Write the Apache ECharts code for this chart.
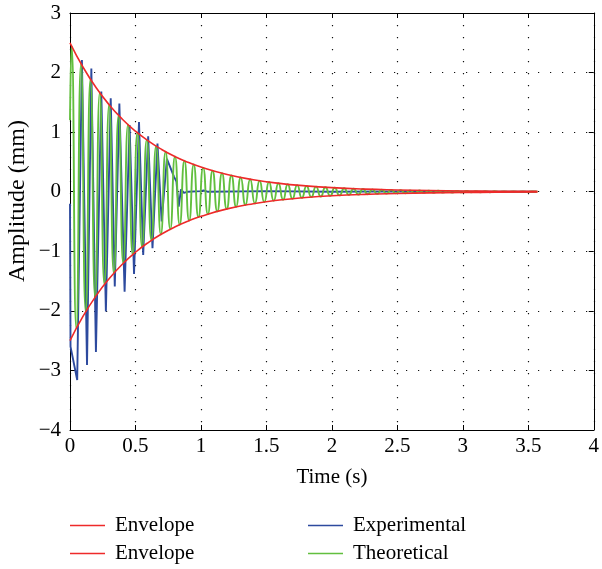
<!DOCTYPE html>
<html>
<head>
<meta charset="utf-8">
<script src="https://cdn.jsdelivr.net/npm/echarts@6/dist/echarts.min.js"></script>
<style>html,body{margin:0;padding:0;background:#fff;}#c{width:602px;height:569px;}</style>
</head>
<body>
<div id="c"></div>
<script>
// ---- Data ----
var xTicks = [0, 0.5, 1, 1.5, 2, 2.5, 3, 3.5, 4];
var yTicks = [-4, -3, -2, -1, 0, 1, 2, 3];

var envTime  = [0, 0.1, 0.2, 0.3, 0.4, 0.5, 0.6, 0.7, 0.8, 0.9, 1.0, 1.2, 1.4, 1.6, 1.8, 2.0, 2.25, 2.5, 2.75, 3.0, 3.25, 3.57];
var envUpper = [2.5, 2.089, 1.744, 1.457, 1.217, 1.016, 0.849, 0.709, 0.592, 0.495, 0.413, 0.288, 0.201, 0.140, 0.098, 0.068, 0.044, 0.030, 0.020, 0.013, 0.009, 0.006];
var envLower = [-2.5, -2.089, -1.744, -1.457, -1.217, -1.016, -0.849, -0.709, -0.592, -0.495, -0.413, -0.288, -0.201, -0.140, -0.098, -0.068, -0.044, -0.030, -0.020, -0.013, -0.009, -0.006];

var expTime  = [0, 0.004, 0.055, 0.091, 0.130, 0.163, 0.198, 0.239, 0.274, 0.311, 0.342, 0.377, 0.417, 0.455, 0.489, 0.527, 0.559, 0.597, 0.630, 0.668, 0.700, 0.740, 0.795, 0.813, 0.830, 0.848, 0.870, 0.900, 1.000, 1.020, 1.050, 1.500, 2.000, 2.500, 3.000, 3.560];
var expValue = [-0.2, -2.6, -3.16, 2.21, -2.91, 2.07, -2.69, 1.68, -2.01, 1.57, -1.59, 1.48, -1.68, 1.12, -1.38, 1.17, -1.06, 0.93, -0.95, 0.81, -0.5, 0.55, 0.25, 0.17, -0.25, 0.04, -0.02, 0.0, 0.01, 0.02, 0.0, 0.01, 0.0, 0.005, 0.0, 0.0];

var theoTime = [0, 0.012, 0.048, 0.084, 0.120, 0.156, 0.192, 0.227, 0.263, 0.299, 0.335, 0.371, 0.407, 0.443, 0.479, 0.515, 0.551, 0.586, 0.622, 0.658, 0.694, 0.730, 0.766, 0.802, 0.838, 0.874, 0.910, 0.945, 0.981, 1.017, 1.053, 1.089, 1.125, 1.161, 1.197, 1.233, 1.269, 1.304, 1.340, 1.376, 1.412, 1.448, 1.484, 1.520, 1.556, 1.592, 1.628, 1.663, 1.699, 1.735, 1.771, 1.807, 1.843, 1.879, 1.915, 1.951, 1.987, 2.022, 2.058, 2.094, 2.130, 2.166, 2.202, 2.238, 2.274, 2.310, 2.346, 2.381, 2.417, 2.453, 2.489, 2.525, 2.561, 2.597, 2.633, 2.669, 2.705, 2.740, 2.776, 2.812, 2.848, 2.884, 2.920, 2.956, 2.992, 3.028, 3.064, 3.099, 3.135, 3.171, 3.207, 3.243, 3.279, 3.315, 3.351, 3.387, 3.423, 3.458, 3.494, 3.530, 3.570];
var theoValue = [1.2, 2.447, -2.294, 2.150, -2.015, 1.889, -1.771, 1.660, -1.556, 1.459, -1.368, 1.282, -1.202, 1.127, -1.056, 0.990, -0.928, 0.870, -0.816, 0.765, -0.717, 0.672, -0.630, 0.590, -0.554, 0.519, -0.486, 0.456, -0.427, 0.401, -0.376, 0.352, -0.330, 0.309, -0.290, 0.272, -0.255, 0.239, -0.224, 0.210, -0.197, 0.185, -0.173, 0.162, -0.152, 0.143, -0.134, 0.125, -0.117, 0.110, -0.103, 0.097, -0.091, 0.085, -0.080, 0.075, -0.070, 0.066, -0.062, 0.058, -0.054, 0.051, -0.048, 0.045, -0.042, 0.039, -0.037, 0.034, -0.032, 0.030, -0.028, 0.027, -0.025, 0.023, -0.022, 0.021, -0.019, 0.018, -0.017, 0.016, -0.015, 0.014, -0.013, 0.012, -0.011, 0.011, -0.010, 0.009, -0.009, 0.008, -0.008, 0.007, -0.007, 0.006, -0.006, 0.006, -0.005, 0.005, -0.005, 0.004, 0];

var legendNames = ['Envelope', 'Envelope ', 'Experimental', 'Theoretical'];
var xTitle = 'Time (s)';
var yTitle = 'Amplitude (mm)';
var colors = {red: '#ee2a2a', blue: '#2d4a9e', green: '#62bf3e'};

function zip(a, b) { return a.map(function (v, i) { return [v, b[i]]; }); }

var FONT = 'Liberation Serif';
var FS = 21;
var dotted = {show: true, lineStyle: {color: '#111', width: 1.2, type: [1.2, 10.8]}};
var minus = function (v) { return String(v).replace('-', '\u2212'); };

var chart = echarts.init(document.getElementById('c'), null, {renderer: 'canvas'});
function axisCommon() {
  return {
    axisLine: {show: true, onZero: false, lineStyle: {color: '#000', width: 1}},
    axisTick: {show: true, inside: true, length: 5, lineStyle: {color: '#000'}}
  };
}
function legendAt(name, left, top) {
  return {
    data: [name], left: left, top: top, orient: 'horizontal', padding: 0,
    icon: 'rect', itemWidth: 35, itemHeight: 1.5,
    textStyle: {fontFamily: FONT, fontSize: FS, color: '#000', padding: [0, 0, 0, 5]}
  };
}
chart.setOption({
  animation: false,
  backgroundColor: '#fff',
  grid: {left: 70, right: 4, top: 13, bottom: 139},
  xAxis: [
    Object.assign({type: 'value', min: 0, max: 4, interval: 0.5, position: 'bottom',
      name: xTitle, nameLocation: 'middle', nameGap: 37,
      nameTextStyle: {fontFamily: FONT, fontSize: FS, color: '#000'},
      axisLabel: {fontFamily: FONT, fontSize: FS, color: '#000', margin: 6},
      splitLine: dotted}, axisCommon()),
    Object.assign({type: 'value', min: 0, max: 4, interval: 0.5, position: 'top',
      axisLabel: {show: false}, splitLine: {show: false}}, axisCommon())
  ],
  yAxis: [
    Object.assign({type: 'value', min: -4, max: 3, interval: 1, position: 'left',
      axisLabel: {fontFamily: FONT, fontSize: FS, color: '#000', margin: 9, formatter: minus},
      splitLine: dotted}, axisCommon()),
    Object.assign({type: 'value', min: -4, max: 3, interval: 1, position: 'right',
      axisLabel: {show: false}, splitLine: {show: false}}, axisCommon())
  ],
  graphic: [{
    type: 'text', x: 18, y: 201, rotation: Math.PI / 2,
    style: {text: yTitle, fontFamily: FONT, fontSize: 24, fill: '#000', align: 'center', verticalAlign: 'middle'}
  }],
  legend: [
    legendAt(legendNames[0], 70, 515),
    legendAt(legendNames[1], 70, 543),
    legendAt(legendNames[2], 308, 515),
    legendAt(legendNames[3], 308, 543)
  ],
  series: [
    {name: legendNames[0], type: 'line', data: zip(envTime, envUpper), smooth: true, showSymbol: false,
      lineStyle: {color: colors.red, width: 1.6}, itemStyle: {color: colors.red}, z: 5},
    {name: legendNames[1], type: 'line', data: zip(envTime, envLower), smooth: true, showSymbol: false,
      lineStyle: {color: colors.red, width: 1.6}, itemStyle: {color: colors.red}, z: 5},
    {name: legendNames[2], type: 'line', data: zip(expTime, expValue), showSymbol: false,
      lineStyle: {color: colors.blue, width: 1.9}, itemStyle: {color: colors.blue}, z: 3},
    {name: legendNames[3], type: 'line', data: zip(theoTime, theoValue), smooth: 0.6, showSymbol: false,
      lineStyle: {color: colors.green, width: 1.9}, itemStyle: {color: colors.green}, z: 4}
  ]
});
</script>
</body>
</html>
